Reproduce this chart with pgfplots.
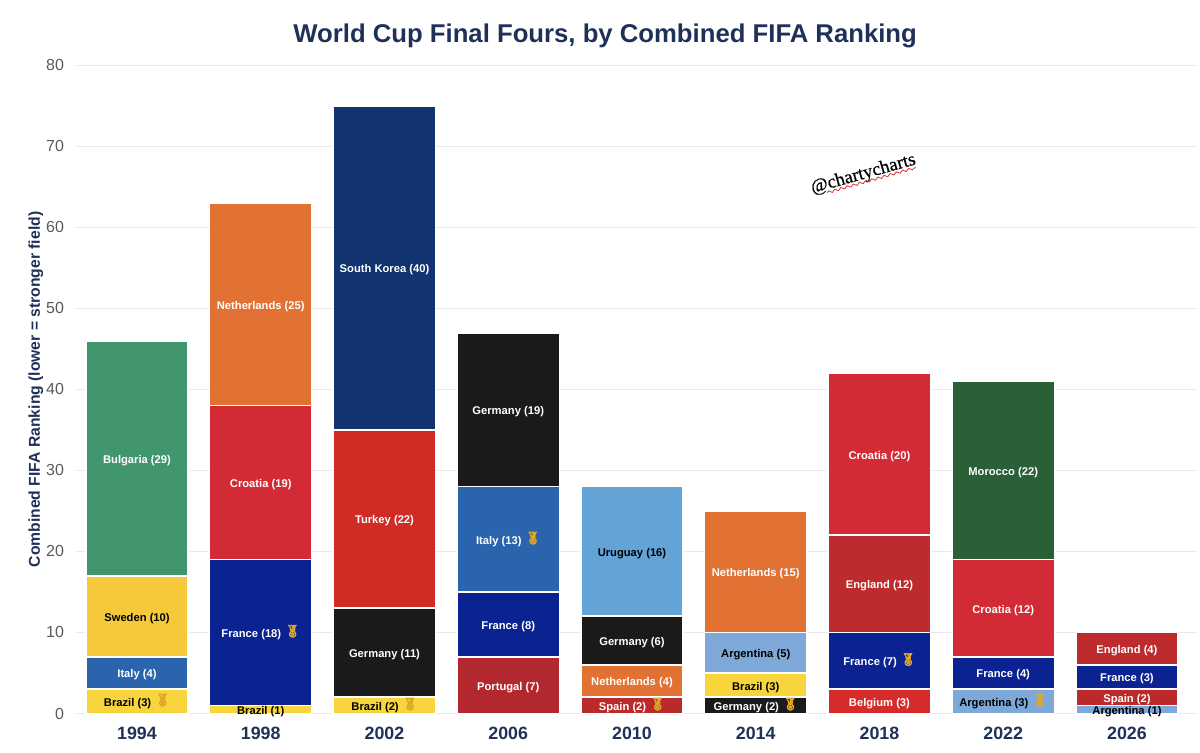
\documentclass[border=0pt]{standalone}
\usepackage{fontspec}
\usepackage{pgfplots}
\pgfplotsset{compat=1.18}
\usetikzlibrary{decorations.pathmorphing}
\setmainfont{Liberation Sans}
\newfontfamily\serifwm[FakeBold=0.5]{Liberation Serif}
\newfontfamily\emojifont[FakeBold=6]{Noto Emoji}

\definecolor{navy}{HTML}{1F3158}
\definecolor{ticktext}{HTML}{5A5A5A}
\definecolor{gridc}{HTML}{E9E9E9}
\definecolor{medal}{HTML}{DDA62A}
\definecolor{bulgaria}{HTML}{41966D}
\definecolor{sweden}{HTML}{F6C93D}
\definecolor{italy}{HTML}{2A64AC}
\definecolor{brazil}{HTML}{F8D53C}
\definecolor{netherlands}{HTML}{E27234}
\definecolor{croatia}{HTML}{D32B35}
\definecolor{france}{HTML}{0A2391}
\definecolor{korea}{HTML}{113370}
\definecolor{turkey}{HTML}{D02C25}
\definecolor{germany}{HTML}{1A1A1A}
\definecolor{portugal}{HTML}{B3282E}
\definecolor{uruguay}{HTML}{64A3D6}
\definecolor{spain}{HTML}{BB2A2A}
\definecolor{argentina}{HTML}{7EA8D8}
\definecolor{belgium}{HTML}{D62B2B}
\definecolor{england}{HTML}{BE2B2E}
\definecolor{morocco}{HTML}{296038}

\newcommand{\medal}{\hspace{1.8pt}\smash{\emojifont\fontsize{6}{6}\selectfont\color{medal}\raisebox{1pt}{🏅}}}
% x, stack top, own value, fill, text colour, label
\newcommand{\seg}[6]{%
  \addplot[ybar, bar width=51.2pt, bar shift=0pt, fill=#4, draw=white, line width=0.8pt,
    nodes near coords={\textbf{#6}},
    every node near coord/.append style={anchor=center, text=#5, font=\fontsize{5.6}{6}\selectfont,
      inner sep=0pt, yshift={-#3*2.025pt-1pt}}]
    coordinates {(#1,#2)};
}

\begin{document}
\begin{tikzpicture}
  \path[use as bounding box] (-38pt,-19.75pt) rectangle (562pt,356.75pt);
  \begin{axis}[
      scale only axis,
      width=560.5pt,
      height=324pt,
      clip=false,
      xmin=-0.493, xmax=8.566,
      ymin=0, ymax=80,
      ytick={0,10,...,80},
      xtick={0,...,8},
      xticklabels={1994,1998,2002,2006,2010,2014,2018,2022,2026},
      major tick length=0pt,
      axis line style={draw=none},
      ymajorgrids,
      grid style={gridc, line width=0.5pt},
      /pgf/number format/assume math mode=true,
      yticklabel style={font=\fontsize{8}{9}\selectfont, text=ticktext, xshift=-2.5pt},
      xticklabel style={font=\fontsize{8.9}{10}\selectfont\bfseries, text=navy, yshift=-3.5pt},
      ylabel={Combined FIFA Ranking (lower = stronger field)},
      ylabel style={at={(axis description cs:-0.0357,0.5)}, anchor=center, rotate=0,
        font=\fontsize{7.85}{9}\selectfont\bfseries, text=navy},
      title={World Cup Final Fours, by Combined FIFA Ranking},
      every axis title shift=0pt,
      title style={at={(axis description cs:0.472,1.0455)}, anchor=center,
        font=\fontsize{12.85}{15}\selectfont\bfseries, text=navy},
    ]
    % 1994
    \seg{0}{46}{29}{bulgaria}{white}{Bulgaria (29)}
    \seg{0}{17}{10}{sweden}{black}{Sweden (10)}
    \seg{0}{7}{4}{italy}{white}{Italy (4)}
    \seg{0}{3}{3}{brazil}{black}{Brazil (3)\medal}
    % 1998
    \seg{1}{63}{25}{netherlands}{white}{Netherlands (25)}
    \seg{1}{38}{19}{croatia}{white}{Croatia (19)}
    \seg{1}{19}{18}{france}{white}{France (18)\medal}
    \seg{1}{1}{1}{brazil}{black}{Brazil (1)}
    % 2002
    \seg{2}{75}{40}{korea}{white}{South Korea (40)}
    \seg{2}{35}{22}{turkey}{white}{Turkey (22)}
    \seg{2}{13}{11}{germany}{white}{Germany (11)}
    \seg{2}{2}{2}{brazil}{black}{Brazil (2)\medal}
    % 2006
    \seg{3}{47}{19}{germany}{white}{Germany (19)}
    \seg{3}{28}{13}{italy}{white}{Italy (13)\medal}
    \seg{3}{15}{8}{france}{white}{France (8)}
    \seg{3}{7}{7}{portugal}{white}{Portugal (7)}
    % 2010
    \seg{4}{28}{16}{uruguay}{black}{Uruguay (16)}
    \seg{4}{12}{6}{germany}{white}{Germany (6)}
    \seg{4}{6}{4}{netherlands}{white}{Netherlands (4)}
    \seg{4}{2}{2}{spain}{white}{Spain (2)\medal}
    % 2014
    \seg{5}{25}{15}{netherlands}{white}{Netherlands (15)}
    \seg{5}{10}{5}{argentina}{black}{Argentina (5)}
    \seg{5}{5}{3}{brazil}{black}{Brazil (3)}
    \seg{5}{2}{2}{germany}{white}{Germany (2)\medal}
    % 2018
    \seg{6}{42}{20}{croatia}{white}{Croatia (20)}
    \seg{6}{22}{12}{england}{white}{England (12)}
    \seg{6}{10}{7}{france}{white}{France (7)\medal}
    \seg{6}{3}{3}{belgium}{white}{Belgium (3)}
    % 2022
    \seg{7}{41}{22}{morocco}{white}{Morocco (22)}
    \seg{7}{19}{12}{croatia}{white}{Croatia (12)}
    \seg{7}{7}{4}{france}{white}{France (4)}
    \seg{7}{3}{3}{argentina}{black}{Argentina (3)\medal}
    % 2026
    \seg{8}{10}{4}{england}{white}{England (4)}
    \seg{8}{6}{3}{france}{white}{France (3)}
    \seg{8}{3}{2}{spain}{white}{Spain (2)}
    \seg{8}{1}{1}{argentina}{black}{Argentina (1)}
    % watermark
    \node[rotate=15.7, font=\serifwm\fontsize{9.3}{10}\selectfont, text=black]
      at (axis cs:5.87,66.55) {@chartycharts};
    \draw[red!80!black!80, line width=0.4pt,
      decorate, decoration={snake, amplitude=0.6pt, segment length=3.2pt}]
      (axis cs:5.576,64.3) -- (axis cs:6.295,67.4);
  \end{axis}
\end{tikzpicture}
\end{document}
